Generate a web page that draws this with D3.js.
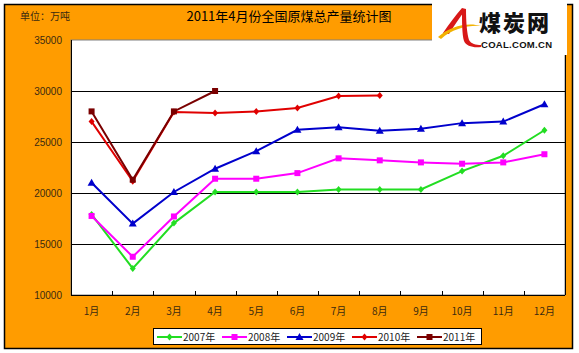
<!DOCTYPE html>
<html><head><meta charset="utf-8">
<script src="https://cdn.jsdelivr.net/npm/d3@7"></script>
<style>body{margin:0;background:#fff;}svg{display:block;}</style>
</head><body>
<svg id="c" width="579" height="353"></svg>
<script>
const months = ["1月","2月","3月","4月","5月","6月","7月","8月","9月","10月","11月","12月"];
const yTicks = [10000,15000,20000,25000,30000,35000];
const seriesNames = ["2007年","2008年","2009年","2010年","2011年"];
const v2007 = [17900,12600,17050,20100,20100,20100,20350,20350,20350,22150,23650,26150];
const v2008 = [17750,13750,17700,21400,21400,21950,23400,23200,23000,22870,23000,23800];
const v2009 = [21000,17000,20100,22380,24100,26200,26450,26100,26300,26850,27000,28700];
const v2010 = [27000,21150,27950,27850,28000,28330,29500,29550];
const v2011 = [28000,21300,28000,30000];
const colors = ["#22dd22","#ff00ff","#0000cc","#e00000","#7a0000"];
const shapes = ["diamond","square","triangle","diamond","square"];

const svg = d3.select("#c");
// background frame
svg.append("rect").attr("x",4.5).attr("y",4.5).attr("width",568).attr("height",344)
  .attr("fill","#ff9c00").attr("stroke","#000").attr("stroke-width",1.5);

const L=71,R=565,T=40,B=295;
const x = d3.scaleBand().domain(months).range([L,R]);
const y = d3.scaleLinear().domain([10000,35000]).range([B,T]);

svg.append("rect").attr("x",L).attr("y",T).attr("width",R-L).attr("height",B-T)
  .attr("fill","#fff").attr("stroke","#808080").attr("stroke-width",1);

// gridlines
svg.append("g").selectAll("line").data(yTicks.filter(d=>d>10000&&d<35000)).join("line")
  .attr("x1",L).attr("x2",R).attr("y1",d=>Math.round(y(d))+0.5).attr("y2",d=>Math.round(y(d))+0.5)
  .attr("stroke","#000").attr("stroke-width",1);

// x axis line and ticks
svg.append("line").attr("x1",L).attr("x2",R).attr("y1",B+0.5).attr("y2",B+0.5).attr("stroke","#000");
svg.append("g").selectAll("line").data(months.slice(1)).join("line")
  .attr("x1",d=>Math.round(x(d))+0.5).attr("x2",d=>Math.round(x(d))+0.5)
  .attr("y1",B-4).attr("y2",B).attr("stroke","#000");
svg.append("line").attr("x1",R+0.5).attr("x2",R+0.5).attr("y1",T).attr("y2",B).attr("stroke","#000");
svg.append("line").attr("x1",L+0.5).attr("x2",L+0.5).attr("y1",T).attr("y2",B).attr("stroke","#000");

// y labels
svg.append("g").selectAll("text").data(yTicks).join("text")
  .attr("x",62).attr("y",d=>y(d)+3.5).attr("text-anchor","end")
  .attr("font-family","Liberation Sans, Arial, sans-serif").attr("font-size",10).attr("fill","#3a2a10")
  .text(d=>d);
// x labels
svg.append("g").selectAll("text").data(months).join("text")
  .attr("x",d=>x(d)+x.bandwidth()/2).attr("y",315).attr("text-anchor","middle")
  .attr("font-family","Noto Sans CJK SC, sans-serif").attr("font-size",10).attr("fill","#3a2a10")
  .text(d=>d);

// title and unit
svg.append("text").attr("x",20).attr("y",20).attr("font-family","Noto Sans CJK SC, sans-serif")
  .attr("font-size",10).attr("fill","#3a2a10").text("单位：万吨");
svg.append("text").attr("x",289).attr("y",21).attr("text-anchor","middle")
  .attr("font-family","Noto Sans CJK SC, sans-serif").attr("font-size",13).attr("fill","#000")
  .text("2011年4月份全国原煤总产量统计图");

const lineGen = d3.line().x((d,i)=>x(months[i])+x.bandwidth()/2).y(d=>y(d));
const data = [v2007,v2008,v2009,v2010,v2011];
function marker(g,shape,cx,cy,color){
  if(shape==="square") g.append("rect").attr("x",cx-3).attr("y",cy-3).attr("width",6).attr("height",6).attr("fill",color);
  else if(shape==="triangle") g.append("path").attr("d",`M${cx},${cy-4}L${cx+4},${cy+3}L${cx-4},${cy+3}Z`).attr("fill",color);
  else g.append("path").attr("d",`M${cx},${cy-3.5}L${cx+3},${cy}L${cx},${cy+3.5}L${cx-3},${cy}Z`).attr("fill",color);
}
data.forEach((vals,k)=>{
  const g = svg.append("g");
  g.append("path").attr("d",lineGen(vals)).attr("fill","none").attr("stroke",colors[k]).attr("stroke-width",2);
  vals.forEach((v,i)=>marker(g,shapes[k],x(months[i])+x.bandwidth()/2,y(v),colors[k]));
});

// legend
const lg = svg.append("g");
lg.append("rect").attr("x",153.5).attr("y",328.5).attr("width",328).attr("height",16).attr("fill","#fff").attr("stroke","#000");
const lx = [157,222,287,352,417];
seriesNames.forEach((n,k)=>{
  lg.append("line").attr("x1",lx[k]).attr("x2",lx[k]+25).attr("y1",337).attr("y2",337).attr("stroke",colors[k]).attr("stroke-width",2);
  marker(lg,shapes[k],lx[k]+12.5,337,colors[k]);
  lg.append("text").attr("x",lx[k]+26).attr("y",341).attr("font-family","Noto Sans CJK SC, sans-serif")
    .attr("font-size",10).attr("fill","#222").text(n);
});

// logo
const lo = svg.append("g");
lo.append("rect").attr("x",432).attr("y",0).attr("width",135).attr("height",55).attr("fill","#fff");
// red diagonal stroke
lo.append("path").attr("d","M443,33 C449,24 456,15 462,8 L466,9 C460,17 454,26 449,34 Z").attr("fill","#d81818");
// yellow swoosh
lo.append("path").attr("d","M438,37 C450,26 468,22 481,26 C468,25 452,29 441,39 Z").attr("fill","#f2b200");
// red vertical stroke curving right
lo.append("path").attr("d","M462,9 L466,9 C466,22 467,34 469,40 C471,44 476,45 481,45 L481,47 C473,48 466,46 464,41 C462,34 462,22 462,9 Z").attr("fill","#d81818");
lo.append("text").attr("x",479).attr("y",31).attr("font-family","Noto Sans CJK SC, sans-serif").attr("font-weight","900")
  .attr("font-size",22).attr("letter-spacing",2).attr("fill","#111").text("煤炭网");
lo.append("text").attr("x",481).attr("y",47.5).attr("font-family","Liberation Sans, Arial, sans-serif").attr("font-weight","bold")
  .attr("font-size",9.5).attr("textLength",71).attr("fill","#111").text("COAL.COM.CN");
</script>
</body></html>
